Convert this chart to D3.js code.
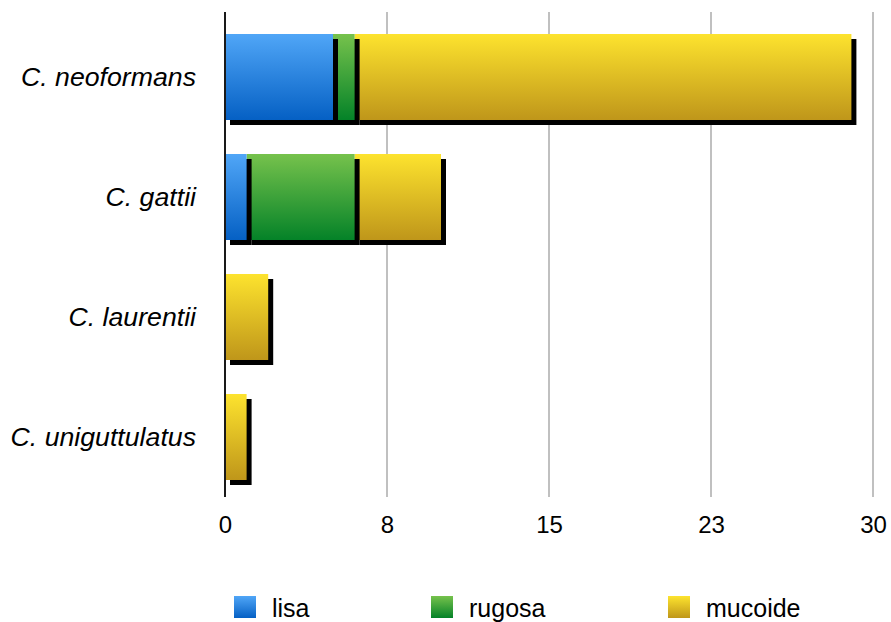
<!DOCTYPE html>
<html>
<head>
<meta charset="utf-8">
<script src="https://cdn.jsdelivr.net/npm/d3@7"></script>
<style>
  html, body { margin: 0; padding: 0; background: #fff; }
  svg { display: block; font-family: "Liberation Sans", Arial, Helvetica, sans-serif; }
</style>
</head>
<body>
<svg id="chart" width="891" height="622"></svg>
<script>
// Species (y axis, top to bottom)
const species = ["C. neoformans", "C. gattii", "C. laurentii", "C. uniguttulatus"];
// Colony morphology series
const seriesKeys = ["lisa", "rugosa", "mucoide"];
const lisa    = [5, 1, 0, 0];
const rugosa  = [1, 5, 0, 0];
const mucoide = [23, 4, 2, 1];
// Axis ticks (quarters of the 0–30 domain, labelled rounded)
const tickValues = [0, 7.5, 15, 22.5, 30];
const tickLabels = ["0", "8", "15", "23", "30"];

const gradients = {
  lisa:    ["#50a6f7", "#0560c4"],
  rugosa:  ["#76c24c", "#048228"],
  mucoide: ["#fde32e", "#bf961a"]
};

const rows = species.map((s, i) => ({ species: s, lisa: lisa[i], rugosa: rugosa[i], mucoide: mucoide[i] }));

const svg = d3.select("#chart");
const defs = svg.append("defs");
seriesKeys.forEach(k => {
  const g = defs.append("linearGradient")
    .attr("id", "grad-" + k)
    .attr("x1", 0).attr("y1", 0).attr("x2", 0).attr("y2", 1);
  g.append("stop").attr("offset", "0%").attr("stop-color", gradients[k][0]);
  g.append("stop").attr("offset", "100%").attr("stop-color", gradients[k][1]);
});

const x = d3.scaleLinear().domain([0, 30]).range([225, 873]);
const y = d3.scaleBand().domain(species).range([17, 497])
  .paddingInner(0.2833).paddingOuter(0.1417);

const gridTop = 12, gridBottom = 497;

// vertical gridlines
svg.append("g").selectAll("line")
  .data(tickValues.slice(1))
  .join("line")
  .attr("x1", d => x(d)).attr("x2", d => x(d))
  .attr("y1", gridTop).attr("y2", gridBottom)
  .attr("stroke", "#c0c0c0").attr("stroke-width", 2);

// stacked bars, each segment with a hard drop shadow; the last segment is drawn first
const stacked = d3.stack().keys(seriesKeys)(rows);
const shadowOffset = 5;
const barsG = svg.append("g");
stacked.slice().reverse().forEach(layer => {
  const key = layer.key;
  const segs = layer.filter(d => d[1] - d[0] > 0);
  const g = barsG.append("g");
  g.selectAll("rect.shadow")
    .data(segs)
    .join("rect")
    .attr("class", "shadow")
    .attr("x", d => x(d[0]) + shadowOffset)
    .attr("y", d => y(d.data.species) + shadowOffset)
    .attr("width", d => x(d[1]) - x(d[0]))
    .attr("height", y.bandwidth())
    .attr("fill", "#000");
  g.selectAll("rect.seg")
    .data(segs)
    .join("rect")
    .attr("class", "seg")
    .attr("x", d => x(d[0]))
    .attr("y", d => y(d.data.species))
    .attr("width", d => x(d[1]) - x(d[0]))
    .attr("height", y.bandwidth())
    .attr("fill", "url(#grad-" + key + ")");
});

// x axis labels
const xAxis = d3.axisBottom(x)
  .tickValues(tickValues)
  .tickFormat((d, i) => tickLabels[i])
  .tickSize(0)
  .tickPadding(0);
const xg = svg.append("g").attr("transform", `translate(0, ${gridBottom})`).call(xAxis);
xg.select(".domain").remove();
xg.selectAll("text")
  .attr("dy", null)
  .attr("y", 36)
  .attr("font-size", 24)
  .attr("font-family", "\"Liberation Sans\", Arial, Helvetica, sans-serif")
  .attr("fill", "#000");

// y axis (category labels and vertical axis line)
const yAxis = d3.axisLeft(y).tickSize(0).tickPadding(29);
const yg = svg.append("g").attr("transform", `translate(${x(0)}, 0)`).call(yAxis);
yg.select(".domain").remove();
yg.selectAll("text")
  .attr("font-size", 26.7)
  .attr("font-style", "italic")
  .attr("font-family", "\"Liberation Sans\", Arial, Helvetica, sans-serif")
  .attr("fill", "#000");

svg.append("line")
  .attr("x1", x(0)).attr("x2", x(0))
  .attr("y1", gridTop).attr("y2", gridBottom)
  .attr("stroke", "#1a1a1a").attr("stroke-width", 2);

// legend
const legendX = [234, 431, 668];
const legend = svg.append("g").selectAll("g")
  .data(seriesKeys)
  .join("g")
  .attr("transform", (d, i) => `translate(${legendX[i]}, 596)`);
legend.append("rect")
  .attr("width", 22).attr("height", 22)
  .attr("fill", d => "url(#grad-" + d + ")");
legend.append("text")
  .attr("x", 38).attr("y", 21)
  .attr("font-size", 25)
  .attr("fill", "#000")
  .text(d => d);
</script>
</body>
</html>
